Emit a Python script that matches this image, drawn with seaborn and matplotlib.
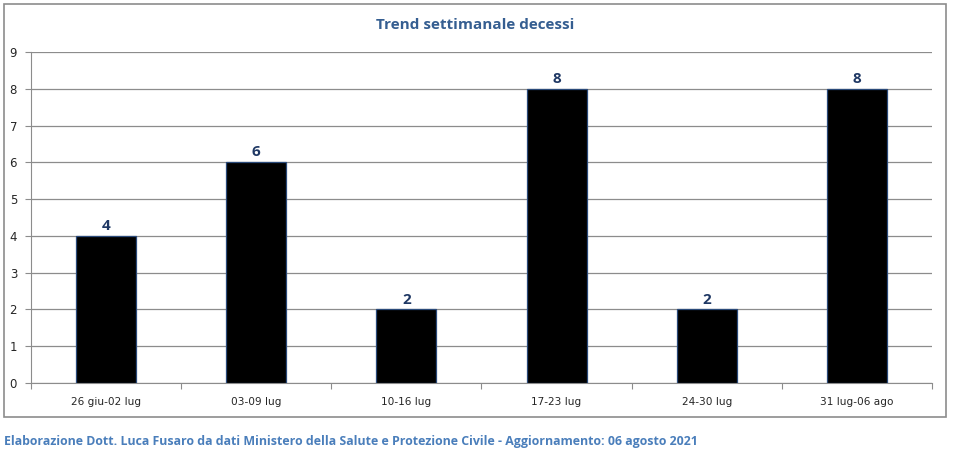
import numpy as np
import pandas as pd
import matplotlib
matplotlib.use("Agg")
import matplotlib.pyplot as plt
import seaborn as sns
from matplotlib.patches import Rectangle

settimane = ['26 giu-02 lug', '03-09 lug', '10-16 lug', '17-23 lug', '24-30 lug', '31 lug-06 ago']
decessi = [4, 6, 2, 8, 2, 8]

sns.set_style("white")
plt.rcParams['font.family'] = ['DejaVu Sans']

df = pd.DataFrame({'settimana': settimane, 'decessi': decessi})

fig = plt.figure(figsize=(9.56, 4.57), dpi=100)
W, H = 956, 457
ax = fig.add_axes([31 / W, 1 - 383 / H, (932 - 31) / W, (383 - 52) / H])

sns.barplot(data=df, x='settimana', y='decessi', color='black', width=0.4,
            edgecolor='#2a4a7a', linewidth=0.9, saturation=1, ax=ax, zorder=3)

ax.set_ylim(0, 9)
ax.set_xlim(-0.5, len(settimane) - 0.5)
ax.set_yticks(range(0, 10))
ax.grid(axis='y', color='#8c8c8c', linewidth=0.9, zorder=0)
ax.set_axisbelow(True)
for s in ['top', 'right']:
    ax.spines[s].set_visible(False)
ax.spines['left'].set_color('#8c8c8c')
ax.spines['bottom'].set_color('#8c8c8c')
ax.set_xlabel('')
ax.set_ylabel('')

# tacche sui confini delle categorie
ax.set_xticks(np.arange(-0.5, len(settimane)), minor=False)
ax.set_xticklabels([])
ax.set_xticks(range(len(settimane)), minor=True)
ax.set_xticklabels(settimane, minor=True, fontsize=7.6)
ax.tick_params(axis='x', which='major', length=4, color='#8c8c8c', direction='out', bottom=True)
ax.tick_params(axis='x', which='minor', length=0, pad=10)
ax.tick_params(axis='y', length=4, color='#8c8c8c', direction='out', left=True, labelsize=8.5, pad=6)

for i, v in enumerate(decessi):
    ax.text(i, v + 0.08, str(v), ha='center', va='bottom', fontsize=11,
            fontweight='bold', color='#1f3864', family=['Open Sans', 'DejaVu Sans'])

fig.text(475 / W, 1 - 25 / H, 'Trend settimanale decessi', ha='center', va='center',
         fontsize=11, fontweight='bold', color='#355e91', family=['Open Sans', 'DejaVu Sans'])

fig.patches.append(Rectangle((4 / W, 1 - 417 / H), (946 - 4) / W, (417 - 4) / H,
                             transform=fig.transFigure, fill=False,
                             edgecolor='#8c8c8c', linewidth=1.2))

fig.text(4 / W, 1 - 441 / H,
         'Elaborazione Dott. Luca Fusaro da dati Ministero della Salute e Protezione Civile - Aggiornamento: 06 agosto 2021',
         ha='left', va='center', fontsize=8.92, fontweight='bold', color='#4a7ebb',
         family=['Open Sans', 'DejaVu Sans'])

fig.savefig('out.png', dpi=100)
